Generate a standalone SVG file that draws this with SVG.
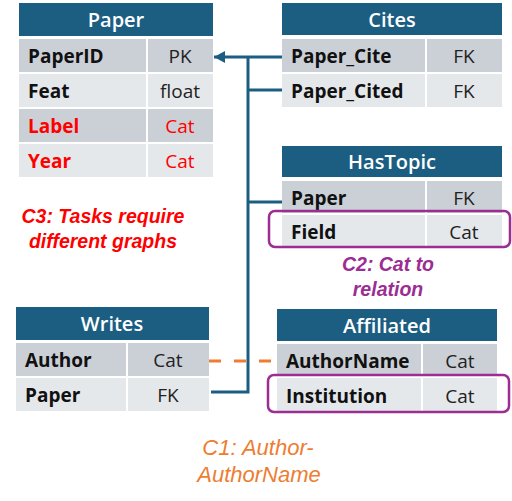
<svg xmlns="http://www.w3.org/2000/svg" width="512" height="501" viewBox="0 0 512 501">
<defs>
<style>
.hd{fill:#1b5e82}
.r1{fill:#cbd0d7}
.r2{fill:#e5e8eb}
.ht{font-family:"Open Sans","Noto Sans",sans-serif;font-size:20px;font-weight:600;fill:#fff;text-anchor:middle}
.nm{font-family:"Open Sans","Noto Sans",sans-serif;font-size:19px;font-weight:bold;fill:#111}
.ty{font-family:"Open Sans","Noto Sans",sans-serif;font-size:19px;fill:#222;text-anchor:middle}
.red{fill:#ff0000}
.conn{fill:none;stroke:#1b5e82;stroke-width:3}
.dash{fill:none;stroke:#ed7d31;stroke-width:3;stroke-dasharray:12 13}
.hl{fill:none;stroke:#9b2d93;stroke-width:2.5}
.note{font-family:"Liberation Sans",Arial,sans-serif;font-style:italic;text-anchor:middle}
</style>
<marker id="arr" markerWidth="12" markerHeight="12" refX="11" refY="6" orient="auto" markerUnits="userSpaceOnUse">
<path d="M0,0 L11,6 L0,12 Z" fill="#1b5e82"/>
</marker>
</defs>

<g id="connectors">
<path class="conn" d="M282,57 H214" marker-end="url(#arr)"/>
<path class="conn" d="M248,57 V392 H211"/>
<path class="conn" d="M248,90 H282"/>
<path class="conn" d="M248,202 H282"/>
<path class="dash" d="M209,361 H275"/>
</g>

<g id="paper">
<rect class="hd" x="19" y="3" width="194" height="33"/>
<text class="ht" x="116" y="27">Paper</text>
<rect class="r1" x="19" y="39" width="127" height="33"/><rect class="r1" x="148" y="39" width="65" height="33"/>
<rect class="r2" x="19" y="74" width="127" height="33"/><rect class="r2" x="148" y="74" width="65" height="33"/>
<rect class="r1" x="19" y="109" width="127" height="33"/><rect class="r1" x="148" y="109" width="65" height="33"/>
<rect class="r2" x="19" y="144" width="127" height="33"/><rect class="r2" x="148" y="144" width="65" height="33"/>
<text class="nm" x="28" y="63">PaperID</text><text class="ty" x="180" y="63">PK</text>
<text class="nm" x="28" y="98">Feat</text><text class="ty" x="180" y="98">float</text>
<text class="nm red" x="28" y="133">Label</text><text class="ty red" x="180" y="133">Cat</text>
<text class="nm red" x="28" y="168">Year</text><text class="ty red" x="180" y="168">Cat</text>
</g>

<g id="cites">
<rect class="hd" x="282" y="3" width="220" height="32"/>
<text class="ht" x="392" y="27">Cites</text>
<rect class="r1" x="282" y="39" width="143" height="33"/><rect class="r1" x="427" y="39" width="75" height="33"/>
<rect class="r2" x="282" y="74" width="143" height="33"/><rect class="r2" x="427" y="74" width="75" height="33"/>
<text class="nm" x="291" y="63">Paper_Cite</text><text class="ty" x="464" y="63">FK</text>
<text class="nm" x="291" y="98">Paper_Cited</text><text class="ty" x="464" y="98">FK</text>
</g>

<g id="hastopic">
<rect class="hd" x="282" y="146" width="220" height="31"/>
<text class="ht" x="392" y="169">HasTopic</text>
<rect class="r1" x="282" y="181" width="143" height="32"/><rect class="r1" x="427" y="181" width="75" height="32"/>
<rect class="r2" x="282" y="215" width="143" height="32"/><rect class="r2" x="427" y="215" width="75" height="32"/>
<text class="nm" x="291" y="205">Paper</text><text class="ty" x="464" y="205">FK</text>
<text class="nm" x="291" y="239">Field</text><text class="ty" x="464" y="239">Cat</text>
<rect class="hl" x="269" y="211" width="241" height="36" rx="6"/>
</g>

<g id="writes">
<rect class="hd" x="16" y="307" width="193" height="33"/>
<text class="ht" x="112" y="331">Writes</text>
<rect class="r1" x="16" y="343" width="110" height="33"/><rect class="r1" x="128" y="343" width="81" height="33"/>
<rect class="r2" x="16" y="378" width="110" height="33"/><rect class="r2" x="128" y="378" width="81" height="33"/>
<text class="nm" x="25" y="367">Author</text><text class="ty" x="168" y="367">Cat</text>
<text class="nm" x="25" y="402">Paper</text><text class="ty" x="168" y="402">FK</text>
</g>

<g id="affiliated">
<rect class="hd" x="277" y="309" width="220" height="32"/>
<text class="ht" x="387" y="333">Affiliated</text>
<rect class="r1" x="277" y="344" width="144" height="32"/><rect class="r1" x="423" y="344" width="74" height="32"/>
<rect class="r2" x="277" y="378" width="144" height="33"/><rect class="r2" x="423" y="378" width="74" height="33"/>
<text class="nm" x="286" y="368">AuthorName</text><text class="ty" x="460" y="368">Cat</text>
<text class="nm" x="286" y="403">Institution</text><text class="ty" x="460" y="403">Cat</text>
<rect class="hl" x="268" y="375" width="241" height="37" rx="6"/>
</g>

<g id="notes">
<text class="note" fill="#ff0000" font-weight="bold" font-size="19.5"><tspan x="103" y="223">C3: Tasks require</tspan><tspan x="103" y="248">different graphs</tspan></text>
<text class="note" fill="#9b2d93" font-weight="bold" font-size="19.5"><tspan x="388" y="271">C2: Cat to</tspan><tspan x="388" y="296">relation</tspan></text>
<text class="note" fill="#ed7d31" font-size="22"><tspan x="258" y="455">C1: Author-</tspan><tspan x="259" y="482">AuthorName</tspan></text>
</g>
</svg>
